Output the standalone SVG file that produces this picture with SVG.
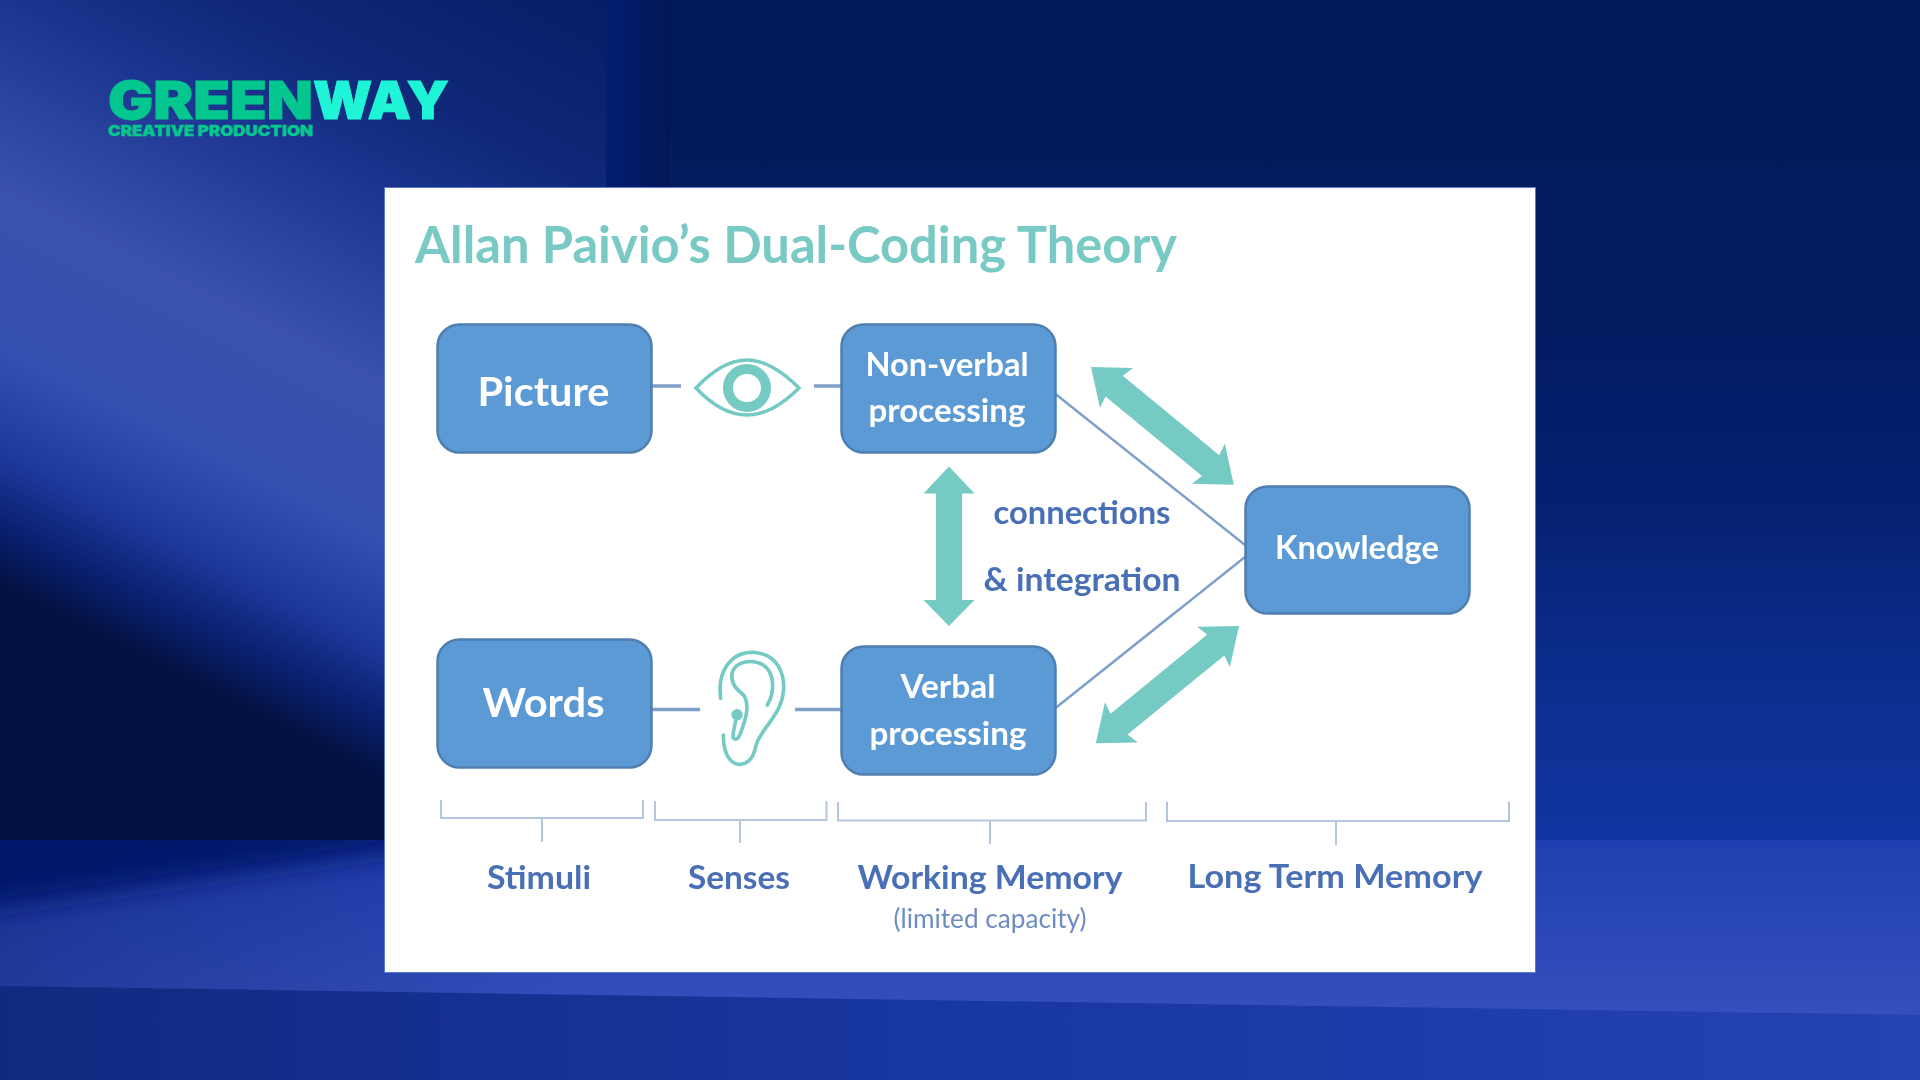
<svg xmlns="http://www.w3.org/2000/svg" width="1920" height="1080" viewBox="0 0 1920 1080">
<style>
.node{fill:#5b9ad6;stroke:#4f7fb0;stroke-width:2.5}
.nt{font-family:"Lato","Liberation Sans",sans-serif;font-weight:700;fill:#fff;text-anchor:middle}
.lb{font-family:"Lato","Liberation Sans",sans-serif;font-weight:700;fill:#4a70b6;text-anchor:middle}
.ln{fill:none;stroke:#7f9fc8;stroke-width:3.500}
.di{fill:none;stroke:#7b9fcb;stroke-width:2.400}
.br{fill:none;stroke:#b4c6dd;stroke-width:2}
.ar{fill:#74cbc4}
.ic{fill:none;stroke:#74cbc4}
</style>
<defs>
<linearGradient id="base" x1="0" y1="0" x2="0" y2="1"><stop offset="0" stop-color="#021a5a"/><stop offset=".28" stop-color="#021c60"/><stop offset=".46" stop-color="#042070"/><stop offset=".65" stop-color="#0e2f92"/><stop offset=".78" stop-color="#1034a0"/></linearGradient>
<linearGradient id="wall" gradientUnits="userSpaceOnUse" x1="121" y1="-240" x2="-252" y2="498">
<stop offset="0" stop-color="#061e66"/><stop offset=".205" stop-color="#0f2878"/><stop offset=".325" stop-color="#1b3590"/><stop offset=".53" stop-color="#3a52ac"/><stop offset=".70" stop-color="#3450b0"/><stop offset=".81" stop-color="#1e3a9e"/><stop offset=".89" stop-color="#0a2170"/><stop offset=".96" stop-color="#021040"/><stop offset="1" stop-color="#021040"/></linearGradient>
<linearGradient id="seam" x1="0" y1="0" x2="1" y2="0"><stop offset="0" stop-color="#041e70"/><stop offset="1" stop-color="#021757"/></linearGradient>
<linearGradient id="floor" x1="0" y1="0" x2="0" y2="1"><stop offset="0" stop-color="#1f3fb0"/><stop offset="1" stop-color="#3650bc"/></linearGradient>
<linearGradient id="floorL" x1="0" y1="0" x2="1" y2="0"><stop offset="0" stop-color="#0c2270" stop-opacity=".45"/><stop offset="1" stop-color="#0c2270" stop-opacity="0"/></linearGradient>
<linearGradient id="strip" x1="0" y1="0" x2="1" y2="0"><stop offset="0" stop-color="#112a80"/><stop offset=".47" stop-color="#1836a0"/><stop offset="1" stop-color="#2442b2"/></linearGradient>
<clipPath id="floorClip"><rect x="0" y="840" width="1920" height="240"/></clipPath>
<filter id="soft" x="-5%" y="-5%" width="110%" height="110%"><feGaussianBlur stdDeviation="0.6"/></filter>
<filter id="bl" x="-20%" y="-50%" width="140%" height="200%"><feGaussianBlur stdDeviation="14"/></filter>
</defs>
<g id="background">
<rect width="1920" height="1080" fill="url(#base)"/>
<rect x="606" y="0" width="64" height="840" fill="url(#seam)"/>
<rect x="0" y="0" width="606" height="840" fill="url(#wall)"/>
<rect x="0" y="840" width="1920" height="180" fill="url(#floor)"/>
<rect x="0" y="840" width="560" height="180" fill="url(#floorL)"/>
<g clip-path="url(#floorClip)"><polygon points="-60,820 520,820 430,845 -60,915" fill="#04186a" filter="url(#bl)"/></g>
<polygon points="0,986 1920,1015 1920,1080 0,1080" fill="url(#strip)"/>
</g>
<g id="logo" font-family="Inter,'Liberation Sans',sans-serif" font-weight="900">
<text x="108" y="118.500" font-size="52" fill="#03c78e" stroke="#03c78e" stroke-width="1" textLength="205" lengthAdjust="spacingAndGlyphs">GREEN</text>
<text x="313" y="118.500" font-size="52" fill="#1ff5d6" stroke="#1ff5d6" stroke-width="1" textLength="136" lengthAdjust="spacingAndGlyphs">WAY</text>
<text x="108" y="136" font-size="14" fill="#03c78e" stroke="#03c78e" stroke-width=".3" textLength="205" lengthAdjust="spacingAndGlyphs">CREATIVE PRODUCTION</text>
</g>
<rect id="panel" x="384.500" y="187.500" width="1151" height="785" fill="#fff" stroke="#5a78d0" stroke-width="1"/>
<g filter="url(#soft)">
<text id="title" x="415" y="263" font-family="Lato,'Liberation Sans',sans-serif" font-weight="700" font-size="51" fill="#79c9c4" textLength="762" lengthAdjust="spacingAndGlyphs">Allan Paivio’s Dual-Coding Theory</text>
<g id="connectors">
<path class="ln" d="M652,386H681M814,386H841M652,709.500H700M795,709.500H841"/>
<path class="di" d="M1055.500,394L1245,545M1055.500,708L1245,557"/>
<polygon class="ar" transform="translate(1091,367) rotate(39.500)" points="0,0 33,-26 30,-13.500 155,-13.500 152,-26 185,0 152,26 155,13.500 30,13.500 33,26"/>
<polygon class="ar" transform="translate(1239,626) rotate(140.700)" points="0,0 33,-26 30,-13.500 155,-13.500 152,-26 185,0 152,26 155,13.500 30,13.500 33,26"/>
<polygon class="ar" points="949,466.500 974.500,493.500 962,493.500 962,600 974.500,600 949,626 923.500,600 936,600 936,493.500 923.500,493.500"/>
</g>
<g id="brackets">
<path class="br" d="M441,800V818H643V800M542,818V842"/>
<path class="br" d="M655,801V820H826.500V801M740,820V843"/>
<path class="br" d="M838,802V820.500H1146V802M990,820.500V844"/>
<path class="br" d="M1167,802V821H1509V802M1336,821V845"/>
</g>
<g id="node-picture"><rect class="node" x="437.500" y="324.500" width="214" height="128" rx="22"/><text class="nt" x="543.500" y="406" font-size="40" textLength="132" lengthAdjust="spacingAndGlyphs">Picture</text></g>
<g id="node-nonverbal"><rect class="node" x="841.500" y="324.500" width="214" height="128" rx="22"/><text class="nt" x="947" y="376" font-size="33" textLength="163" lengthAdjust="spacingAndGlyphs">Non-verbal</text><text class="nt" x="947" y="422" font-size="33" textLength="157" lengthAdjust="spacingAndGlyphs">processing</text></g>
<g id="node-knowledge"><rect class="node" x="1245.500" y="486.500" width="224" height="127" rx="22"/><text class="nt" x="1357" y="558.500" font-size="33" textLength="164" lengthAdjust="spacingAndGlyphs">Knowledge</text></g>
<g id="node-words"><rect class="node" x="437.500" y="639.500" width="214" height="128" rx="22"/><text class="nt" x="543.500" y="717" font-size="40" textLength="122" lengthAdjust="spacingAndGlyphs">Words</text></g>
<g id="node-verbal"><rect class="node" x="841.500" y="646.500" width="214" height="128" rx="22"/><text class="nt" x="948" y="698" font-size="33" textLength="95" lengthAdjust="spacingAndGlyphs">Verbal</text><text class="nt" x="948" y="744.500" font-size="33" textLength="157" lengthAdjust="spacingAndGlyphs">processing</text></g>
<g id="eye">
<path class="ic" stroke-width="3.500" d="M696,388C712,371 730,360 747,360C764,360 782,371 799,388C782,405 764,415 747,415C730,415 712,405 696,388Z"/>
<circle class="ic" cx="747" cy="388" r="19" stroke-width="10"/>
</g>
<g id="ear" transform="translate(680,630) scale(.3333)">
<path class="ic" stroke-width="11" stroke-linecap="round" d="M122,205C116,160 125,115 160,85C195,58 255,62 285,95C315,130 318,180 300,225C285,265 250,295 232,335C222,360 225,385 195,400C160,412 130,385 130,315"/>
<path class="ic" stroke-width="11" stroke-linecap="round" stroke-linejoin="round" d="M262,225C285,185 285,130 250,105C215,85 170,95 157,125C150,155 165,175 185,190C205,205 205,245 190,285C182,310 175,335 160,325C155,315 165,290 171,254"/>
<circle cx="171" cy="254" r="17" fill="#74cbc4"/>
</g>
<g id="labels">
<text class="lb" x="1082" y="524" font-size="33" fill="#4a6bb8" textLength="177" lengthAdjust="spacingAndGlyphs">connections</text>
<text class="lb" x="1082" y="591" font-size="33" textLength="197" lengthAdjust="spacingAndGlyphs">&amp; integration</text>
<text class="lb" x="539" y="888.500" font-size="33" textLength="104" lengthAdjust="spacingAndGlyphs">Stimuli</text>
<text class="lb" x="739" y="888.500" font-size="33" textLength="102" lengthAdjust="spacingAndGlyphs">Senses</text>
<text class="lb" x="990" y="888.500" font-size="33" textLength="265" lengthAdjust="spacingAndGlyphs">Working Memory</text>
<text class="lb" x="1335" y="887.500" font-size="33" textLength="295" lengthAdjust="spacingAndGlyphs">Long Term Memory</text>
<text class="lb" x="990" y="928" font-size="26" style="font-weight:400;fill:#6d8cc4" textLength="193" lengthAdjust="spacingAndGlyphs">(limited capacity)</text>
</g>
</g>
</svg>
